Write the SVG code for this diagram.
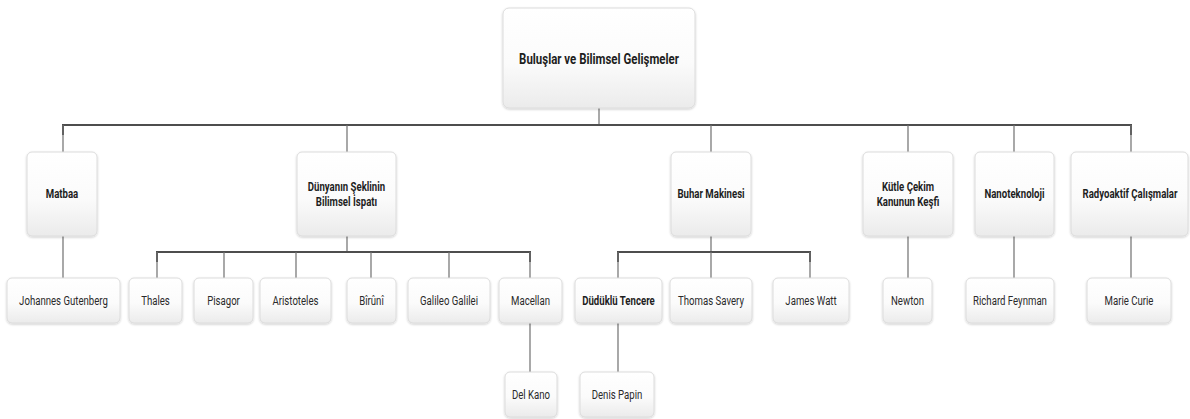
<svg xmlns="http://www.w3.org/2000/svg" width="1190" height="419" viewBox="0 0 1190 419">
<defs>
<linearGradient id="g" x1="0" y1="0" x2="0" y2="1">
<stop offset="0" stop-color="#ffffff"/>
<stop offset="0.55" stop-color="#fbfbfb"/>
<stop offset="1" stop-color="#ebebeb"/>
</linearGradient>
<filter id="sh" x="-10%" y="-10%" width="120%" height="130%">
<feDropShadow dx="0" dy="1" stdDeviation="1.3" flood-color="#000" flood-opacity="0.2"/>
</filter>
<style>
.box{fill:url(#g);stroke:#dcdcdc;stroke-width:1;filter:url(#sh)}
.t{font-family:Roboto,"Liberation Sans",sans-serif;font-size:13px;fill:#2a2a2a;text-anchor:middle}
.b{font-weight:bold;fill:#1e1e1e}
.r{font-size:15.5px}
.bar{stroke:#4e4e4e;stroke-width:2;fill:none}
.v{stroke:#707070;stroke-width:1.2;fill:none}
</style>
</defs>
<rect width="1190" height="419" fill="#fff"/>
<g id="connectors">
<path class="v" d="M599 108V125"/>
<path class="bar" d="M63 135V125H1131V135"/>
<path class="v" d="M63 125V152M347 125V152M711 125V152M908 125V152M1014 125V152M1131 125V152"/>
<path class="v" d="M63 236V278M908 236V278M1014 236V278M1131 236V278"/>
<path class="v" d="M347 236V252M711 236V252"/>
<path class="bar" d="M157 262V252H530V262M618 262V252H810V262"/>
<path class="v" d="M157 252V278M224 252V278M296 252V278M371 252V278M449 252V278M530 252V278M618 252V278M711 252V278M810 252V278"/>
<path class="v" d="M530 323V372M618 323V372"/>
</g>
<g id="root"><rect class="box" x="503" y="8" width="192" height="100" rx="6"/><text class="t b r" transform="translate(599,64) scale(0.74,1)">Buluşlar ve Bilimsel Gelişmeler</text></g>
<g id="matbaa"><rect class="box" x="27" y="152" width="70" height="84" rx="5"/><text class="t b" transform="translate(62,198) scale(0.74,1)">Matbaa</text></g>
<g id="dunya"><rect class="box" x="297" y="152" width="99" height="84" rx="5"/><text class="t b" transform="translate(346.5,191) scale(0.74,1)"><tspan x="0" y="0">Dünyanın Şeklinin</tspan><tspan x="0" y="15">Bilimsel İspatı</tspan></text></g>
<g id="buhar"><rect class="box" x="671" y="152" width="80" height="84" rx="5"/><text class="t b" transform="translate(711,198) scale(0.74,1)">Buhar Makinesi</text></g>
<g id="kutle"><rect class="box" x="863" y="152" width="90" height="84" rx="5"/><text class="t b" transform="translate(908,191) scale(0.74,1)"><tspan x="0" y="0">Kütle Çekim</tspan><tspan x="0" y="15">Kanunun Keşfi</tspan></text></g>
<g id="nano"><rect class="box" x="975" y="152" width="79" height="84" rx="5"/><text class="t b" transform="translate(1014.5,198) scale(0.74,1)">Nanoteknoloji</text></g>
<g id="radyo"><rect class="box" x="1071" y="152" width="117" height="84" rx="5"/><text class="t b" transform="translate(1130,198) scale(0.74,1)">Radyoaktif Çalışmalar</text></g>
<g id="gutenberg"><rect class="box" x="7" y="278" width="113" height="45" rx="5"/><text class="t" transform="translate(63.5,305) scale(0.74,1)">Johannes Gutenberg</text></g>
<g id="thales"><rect class="box" x="129" y="278" width="53" height="45" rx="5"/><text class="t" transform="translate(155.5,305) scale(0.74,1)">Thales</text></g>
<g id="pisagor"><rect class="box" x="194" y="278" width="59" height="45" rx="5"/><text class="t" transform="translate(223.5,305) scale(0.74,1)">Pisagor</text></g>
<g id="aristoteles"><rect class="box" x="260" y="278" width="71" height="45" rx="5"/><text class="t" transform="translate(295.5,305) scale(0.74,1)">Aristoteles</text></g>
<g id="biruni"><rect class="box" x="347" y="278" width="49" height="45" rx="5"/><text class="t" transform="translate(371.5,305) scale(0.74,1)">Bîrûnî</text></g>
<g id="galileo"><rect class="box" x="408" y="278" width="82" height="45" rx="5"/><text class="t" transform="translate(449,305) scale(0.74,1)">Galileo Galilei</text></g>
<g id="macellan"><rect class="box" x="499" y="278" width="63" height="45" rx="5"/><text class="t" transform="translate(530.5,305) scale(0.74,1)">Macellan</text></g>
<g id="duduklu"><rect class="box" x="575" y="278" width="87" height="45" rx="5"/><text class="t b" transform="translate(618.5,305) scale(0.74,1)">Düdüklü Tencere</text></g>
<g id="savery"><rect class="box" x="670" y="278" width="82" height="45" rx="5"/><text class="t" transform="translate(711,305) scale(0.74,1)">Thomas Savery</text></g>
<g id="watt"><rect class="box" x="773" y="278" width="76" height="45" rx="5"/><text class="t" transform="translate(811,305) scale(0.74,1)">James Watt</text></g>
<g id="newton"><rect class="box" x="883" y="278" width="49" height="45" rx="5"/><text class="t" transform="translate(907.5,305) scale(0.74,1)">Newton</text></g>
<g id="feynman"><rect class="box" x="966" y="278" width="88" height="45" rx="5"/><text class="t" transform="translate(1010,305) scale(0.74,1)">Richard Feynman</text></g>
<g id="curie"><rect class="box" x="1087" y="278" width="84" height="45" rx="5"/><text class="t" transform="translate(1129,305) scale(0.74,1)">Marie Curie</text></g>
<g id="delkano"><rect class="box" x="505" y="372" width="52" height="45" rx="5"/><text class="t" transform="translate(531,399) scale(0.74,1)">Del Kano</text></g>
<g id="papin"><rect class="box" x="580" y="372" width="74" height="45" rx="5"/><text class="t" transform="translate(617,399) scale(0.74,1)">Denis Papin</text></g>
</svg>
